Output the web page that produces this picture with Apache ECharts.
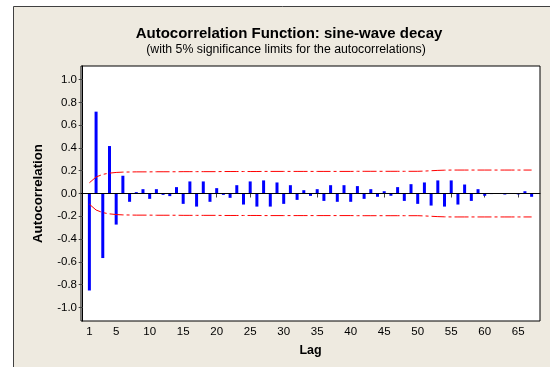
<!DOCTYPE html>
<html>
<head>
<meta charset="utf-8">
<script src="https://cdn.jsdelivr.net/npm/echarts@6/dist/echarts.min.js"></script>
<style>
  html, body { margin: 0; padding: 0; background: #ffffff; }
  #chart { width: 550px; height: 367px; }
</style>
</head>
<body>
<div id="chart"></div>
<script>
// Lags and sample autocorrelations
const lags = [];
for (let k = 1; k <= 67; k++) lags.push(k);

const acf = [
  -0.852, 0.719, -0.567, 0.417, -0.273, 0.156, -0.073, 0.012, 0.038, -0.047,
   0.038, -0.012, -0.023, 0.056, -0.091, 0.106, -0.115, 0.106, -0.073, 0.047,
  -0.012, -0.038, 0.073, -0.097, 0.106, -0.115, 0.115, -0.115, 0.097, -0.091,
   0.073, -0.056, 0.029, -0.021, 0.038, -0.065, 0.073, -0.073, 0.073, -0.073,
   0.065, -0.047, 0.038, -0.029, 0.020, -0.020, 0.056, -0.065, 0.082, -0.091,
   0.097, -0.106, 0.115, -0.115, 0.115, -0.097, 0.079, -0.065, 0.038, -0.020,
  -0.005, -0.004, -0.009, -0.004, -0.008, 0.020, -0.029
];

// 5% significance limits (upper); the lower limit is the negative
const limits = [
  0.094, 0.145, 0.168, 0.179, 0.185, 0.188, 0.189, 0.190, 0.190, 0.190,
  0.191, 0.191, 0.191, 0.191, 0.192, 0.192, 0.192, 0.192, 0.192, 0.192,
  0.193, 0.193, 0.193, 0.193, 0.193, 0.193, 0.194, 0.194, 0.194, 0.194,
  0.194, 0.194, 0.194, 0.194, 0.194, 0.194, 0.194, 0.194, 0.194, 0.194,
  0.195, 0.195, 0.195, 0.195, 0.195, 0.195, 0.195, 0.195, 0.195, 0.195,
  0.197, 0.200, 0.203, 0.205, 0.206, 0.206, 0.206, 0.206, 0.206, 0.206,
  0.206, 0.206, 0.206, 0.206, 0.206, 0.206, 0.206
];

const xTicks = [1, 5, 10, 15, 20, 25, 30, 35, 40, 45, 50, 55, 60, 65];
const yTicks = [-1.0, -0.8, -0.6, -0.4, -0.2, 0.0, 0.2, 0.4, 0.6, 0.8, 1.0];

const titleText = 'Autocorrelation Function: sine-wave decay';
const subtitleText = '(with 5% significance limits for the autocorrelations)';

const FONT = 'Liberation Sans, Arial, sans-serif';

const chart = echarts.init(document.getElementById('chart'), null, { renderer: 'canvas' });

const dashDot = [14, 3, 3, 3];

chart.setOption({
  animation: false,
  backgroundColor: '#ffffff',
  graphic: [
    {
      type: 'rect',
      z: -10,
      silent: true,
      shape: { x: 13.5, y: 6.5, width: 600, height: 400 },
      style: { fill: '#EEEAE0', stroke: '#404040', lineWidth: 1 }
    }
  ],
  title: [
    {
      text: titleText,
      left: 284, top: 21, textAlign: 'center',
      textStyle: { fontFamily: FONT, fontSize: 15, fontWeight: 'bold', color: '#000' }
    },
    {
      text: subtitleText,
      left: 281, top: 39, textAlign: 'center',
      textStyle: { fontFamily: FONT, fontSize: 12.3, fontWeight: 'normal', color: '#000' }
    }
  ],
  grid: {
    left: 81, right: 10, top: 66, bottom: 46,
    show: true,
    backgroundColor: '#ffffff',
    borderColor: '#000000',
    borderWidth: 1
  },
  xAxis: {
    type: 'value',
    min: -0.25, max: 68.25,
    name: 'Lag',
    nameLocation: 'middle',
    nameGap: 23,
    nameTextStyle: { fontFamily: FONT, fontSize: 12.5, fontWeight: 'bold', color: '#000' },
    axisLine: { show: true, lineStyle: { color: '#000' } },
    axisTick: { show: true, length: 4, customValues: xTicks, lineStyle: { color: '#444' } },
    axisLabel: {
      customValues: xTicks, margin: 5,
      fontFamily: FONT, fontSize: 11.5, color: '#000'
    },
    splitLine: { show: false }
  },
  yAxis: {
    type: 'value',
    min: -1.12, max: 1.12,
    name: 'Autocorrelation',
    nameLocation: 'middle',
    nameGap: 36,
    nameTextStyle: { fontFamily: FONT, fontSize: 13.3, fontWeight: 'bold', color: '#000' },
    axisLine: { show: true, lineStyle: { color: '#000' } },
    axisTick: { show: true, length: 4, customValues: yTicks, lineStyle: { color: '#444' } },
    axisLabel: {
      customValues: yTicks, margin: 4,
      fontFamily: FONT, fontSize: 11.5, color: '#000',
      formatter: v => v.toFixed(1)
    },
    splitLine: { show: false }
  },
  series: [
    {
      name: 'ACF',
      type: 'bar',
      barWidth: 3,
      itemStyle: { color: '#0000FF' },
      data: lags.map((k, i) => [k, acf[i]]),
      markLine: {
        silent: true,
        symbol: 'none',
        label: { show: false },
        lineStyle: { color: '#000', width: 1, type: 'solid' },
        data: [{ yAxis: 0 }]
      },
      z: 3
    },
    {
      name: 'Upper limit',
      type: 'line',
      symbol: 'none',
      smooth: false,
      lineStyle: { color: '#FF0000', width: 1, type: dashDot },
      data: lags.map((k, i) => [k, limits[i]]),
      z: 4
    },
    {
      name: 'Lower limit',
      type: 'line',
      symbol: 'none',
      smooth: false,
      lineStyle: { color: '#FF0000', width: 1, type: dashDot },
      data: lags.map((k, i) => [k, -limits[i]]),
      z: 4
    }
  ]
});
</script>
</body>
</html>
